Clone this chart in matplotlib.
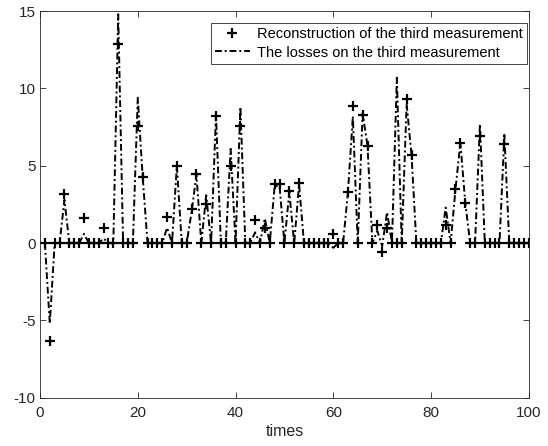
import matplotlib
matplotlib.use("Agg")
import matplotlib.pyplot as plt
import numpy as np

plt.rcParams['font.family'] = ['Liberation Sans', 'DejaVu Sans']

times = list(range(1, 101))

reconstruction = [
    0, -6.3, 0, 0, 3.2, 0, 0, 0, 1.6, 0,
    0, 0, 1.0, 0, 0, 12.9, 0, 0, 0, 7.6,
    4.3, 0, 0, 0, 0, 1.7, 0, 5.0, 0, 0,
    2.2, 4.5, 0, 2.5, 0, 8.2, 0, 0, 5.0, 0,
    7.6, 0, 0, 1.5, 0, 1.0, 0, 3.8, 3.8, 0,
    3.4, 0, 3.9, 0, 0, 0, 0, 0, 0, 0.6,
    0, 0, 3.3, 8.9, 0, 8.3, 6.3, 0, 1.2, -0.6,
    1.0, 0, 0, 0, 9.3, 5.7, 0, 0, 0, 0,
    0, 0, 1.2, 0, 3.5, 6.5, 2.6, 0, 0, 6.9,
    0, 0, 0, 0, 6.4, 0, 0, 0, 0, 0,
]

losses = [
    0, -5.2, 0, 0, 2.8, 0, 0, 0, 0.6, 0,
    0, 0, 0.3, 0, 0, 14.8, 0, 0, 0, 9.4,
    4.3, 0, 0, 0, 0, 1.0, 0, 5.0, 0, 0,
    2.0, 4.4, 0, 3.1, 0, 8.3, 0, 0, 6.1, 0,
    8.8, 0, 0, 0.7, 0, 1.6, 0, 3.7, 3.7, 0,
    3.3, 0, 3.8, 0, 0, 0, 0, 0, 0, -0.3,
    0, 0, 3.3, 8.2, 0, 8.4, 6.3, 0, 0.8, -0.2,
    2.0, 0, 10.7, 0, 9.0, 5.7, 0, 0, 0, 0,
    0, 0, 2.3, 0, 3.5, 6.5, 2.6, 0, 0, 7.7,
    0, 0, 0, 0, 7.0, 0, 0, 0, 0, 0,
]

xticks = [0, 20, 40, 60, 80, 100]
yticks = [-10, -5, 0, 5, 10, 15]

fig = plt.figure(figsize=(5.48, 4.46), dpi=100)
ax = fig.add_axes([0.073, 0.108, 0.892, 0.867])

c = '#000000'
ax.plot(times, reconstruction, linestyle='none', marker='+', markersize=7,
        markeredgewidth=1.6, color=c, label='Reconstruction of the third measurement')
ax.plot(times, losses, linestyle=(0, (3.5, 1.5, 1, 1.5)), linewidth=1.4, color=c,
        label='The losses on the third measurement')

ax.set_xlim(0, 100)
ax.set_ylim(-10, 15)
ax.set_xticks(xticks)
ax.set_yticks(yticks)
ax.set_xticklabels([str(v) for v in xticks])
ax.set_yticklabels([str(v) for v in yticks])
ax.tick_params(direction='in', top=True, right=True, length=4, width=0.6,
               labelsize=11, colors='#262626', labelcolor='#262626', pad=3)
ax.tick_params(axis='x', pad=6)
for s in ax.spines.values():
    s.set_color('#262626')
    s.set_linewidth(0.6)
ax.set_xlabel('times', fontsize=11.5, color='#262626', labelpad=3)

leg = ax.legend(loc='upper right', fontsize=10.5, frameon=True, fancybox=False,
                framealpha=1, edgecolor='#262626', borderpad=0.3,
                handlelength=2.4, handletextpad=0.5, labelspacing=0.3,
                bbox_to_anchor=(0.997, 0.97), borderaxespad=0.0)
leg.get_frame().set_linewidth(0.6)

fig.savefig('out.png', dpi=100)
